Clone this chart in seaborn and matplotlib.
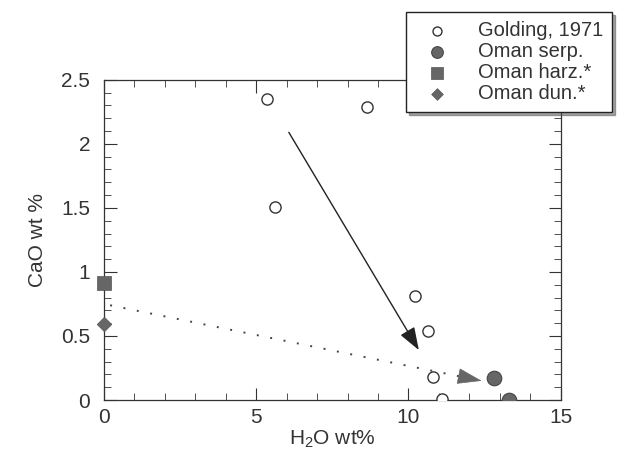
import matplotlib
matplotlib.use("Agg")
import matplotlib.pyplot as plt
from matplotlib.ticker import MultipleLocator
import seaborn as sns

sns.set_style("ticks")
plt.rcParams["font.family"] = ["Liberation Sans", "DejaVu Sans"]
plt.rcParams["mathtext.fontset"] = "custom"
plt.rcParams["mathtext.rm"] = "Liberation Sans"
plt.rcParams["mathtext.it"] = "Liberation Sans:italic"

# data
golding_h2o = [5.35, 5.6, 8.65, 10.2, 10.65, 10.8, 11.1]
golding_cao = [2.35, 1.51, 2.29, 0.81, 0.54, 0.18, 0.01]
serp_h2o = [12.8, 13.3]
serp_cao = [0.17, 0.0]
harz_h2o = [0.0]
harz_cao = [0.91]
dun_h2o = [0.0]
dun_cao = [0.59]

# trend arrows (start, end) in data units
solid_arrow = [(6.07, 2.09), (10.34, 0.39)]
dotted_arrow = [(0.2, 0.74), (12.4, 0.15)]

gray = "#666666"
ink = "#333333"

fig = plt.figure(figsize=(6.23, 4.51), dpi=100)
ax = fig.add_axes([0.167, 0.113, 0.733, 0.71])

sns.scatterplot(x=golding_h2o, y=golding_cao, ax=ax, marker="o", s=65,
                facecolor="white", edgecolor=ink, linewidth=1.0,
                label="Golding, 1971", zorder=3)
sns.scatterplot(x=serp_h2o, y=serp_cao, ax=ax, marker="o", s=110,
                color=gray, edgecolor="#444444", linewidth=0.8,
                label="Oman serp.", zorder=3)
sns.scatterplot(x=harz_h2o, y=harz_cao, ax=ax, marker="s", s=100,
                color=gray, edgecolor="#555555", linewidth=0.5,
                label="Oman harz.*", zorder=3, clip_on=False)
sns.scatterplot(x=dun_h2o, y=dun_cao, ax=ax, marker="D", s=55,
                color=gray, edgecolor="#555555", linewidth=0.5,
                label="Oman dun.*", zorder=3, clip_on=False)

ax.annotate("", xy=solid_arrow[1], xytext=solid_arrow[0],
            arrowprops=dict(arrowstyle="-|>,head_length=0.7,head_width=0.25",
                            color="#222222", lw=1.0, mutation_scale=20,
                            shrinkA=0, shrinkB=0))

# dotted shaft plus a solid grey head
(x0, y0), (x1, y1) = dotted_arrow
f = 0.955
xm, ym = x0 + f * (x1 - x0), y0 + f * (y1 - y0)
ax.plot([x0, xm], [y0, ym], color="#444444", lw=1.4, linestyle=(0, (1, 6)))
ax.annotate("", xy=(x1, y1), xytext=(xm, ym),
            arrowprops=dict(arrowstyle="-|>,head_length=1.0,head_width=0.33",
                            color=gray, lw=0.5, mutation_scale=16,
                            shrinkA=0, shrinkB=0))

ax.set_xlim(0, 15)
ax.set_ylim(0, 2.5)
ax.xaxis.set_minor_locator(MultipleLocator(1))
ax.yaxis.set_minor_locator(MultipleLocator(0.1))
ax.set_xticks([0, 5, 10, 15], ["0", "5", "10", "15"])
ax.set_yticks([0, 0.5, 1, 1.5, 2, 2.5], ["0", "0.5", "1", "1.5", "2", "2.5"])
ax.tick_params(which="both", direction="in", top=True, right=True,
               labelsize=15, color=ink, labelcolor=ink)
ax.tick_params(axis="x", pad=6)
ax.tick_params(axis="y", pad=10)
ax.tick_params(which="major", length=9)
ax.tick_params(which="minor", length=5)
for sp in ax.spines.values():
    sp.set_color(ink)
    sp.set_linewidth(0.9)

ax.set_xlabel("H$_2$O wt%", fontsize=15, color=ink, labelpad=1)
ax.set_ylabel("CaO wt %", fontsize=15, color=ink, labelpad=10)

leg = ax.legend(loc="upper right", bbox_to_anchor=(612 / 623, 1 - 12 / 451),
                bbox_transform=fig.transFigure, frameon=True, shadow=True,
                fancybox=False, fontsize=14.5, handletextpad=0.9,
                borderpad=0.45, labelspacing=0.1, handlelength=2.2,
                borderaxespad=0, markerscale=0.8)
leg.get_frame().set_edgecolor("#222222")
leg.get_frame().set_linewidth(1.0)
for t in leg.get_texts():
    t.set_color(ink)

fig.savefig("out.png", dpi=100)
